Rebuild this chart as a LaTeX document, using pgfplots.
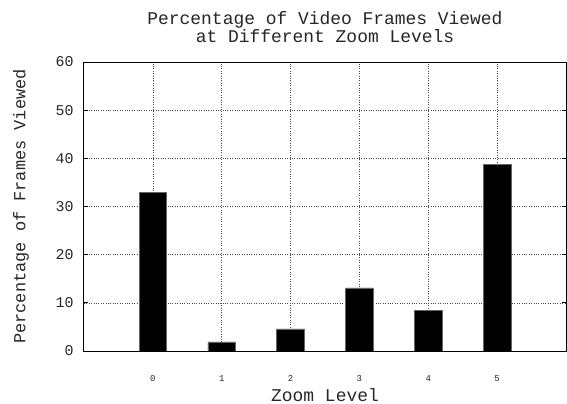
\documentclass[border=0pt]{standalone}
\usepackage{pgfplots}
\pgfplotsset{compat=1.18}
\usepackage{fontspec}
\setmainfont{Liberation Mono}
\begin{document}
\begin{tikzpicture}
\useasboundingbox (-84bp,-53bp) rectangle (483bp,351bp);
\begin{axis}[
  at={(0,0)}, anchor=south west, scale only axis,
  width=482bp, height=289bp,
  xmin=-1, xmax=6, ymin=0, ymax=60,
  xtick={0,1,2,3,4,5}, ytick={0,10,20,30,40,50,60},
  grid=major,
  major grid style={dotted, black!70, line width=0.5bp},
  tick align=inside, major tick length=4bp,
  xtick style={draw=none},
  ytick style={black, line width=0.8bp},
  /pgf/number format/assume math mode=true,
  x tick label style={font=\fontsize{9}{9}\selectfont, yshift=-21bp, text=black!85},
  y tick label style={font=\fontsize{15}{15}\selectfont, xshift=-7bp, text=black!85},
  axis line style={line width=1bp},
  title={Percentage of Video Frames Viewed\\at Different Zoom Levels},
  title style={align=center, font=\fontsize{18}{18}\selectfont, text=black!85,
    at={(axis description cs:0.5,1)}, anchor=south, yshift=10bp},
  xlabel={Zoom Level},
  xlabel style={font=\fontsize{18}{18}\selectfont, text=black!85,
    at={(axis description cs:0.5,0)}, anchor=base, yshift=-50bp},
  ylabel={Percentage of Frames Viewed},
  ylabel style={font=\fontsize{17}{17}\selectfont, text=black!85,
    at={([xshift=-63bp]axis description cs:0,0.5)}, anchor=center},
]
\addplot[ybar, bar width=0.4, fill=black, draw=black!60, line width=0.6bp]
  coordinates {(0,33) (1,1.9) (2,4.6) (3,13.1) (4,8.5) (5,38.7)};
\end{axis}
\end{tikzpicture}
\end{document}
